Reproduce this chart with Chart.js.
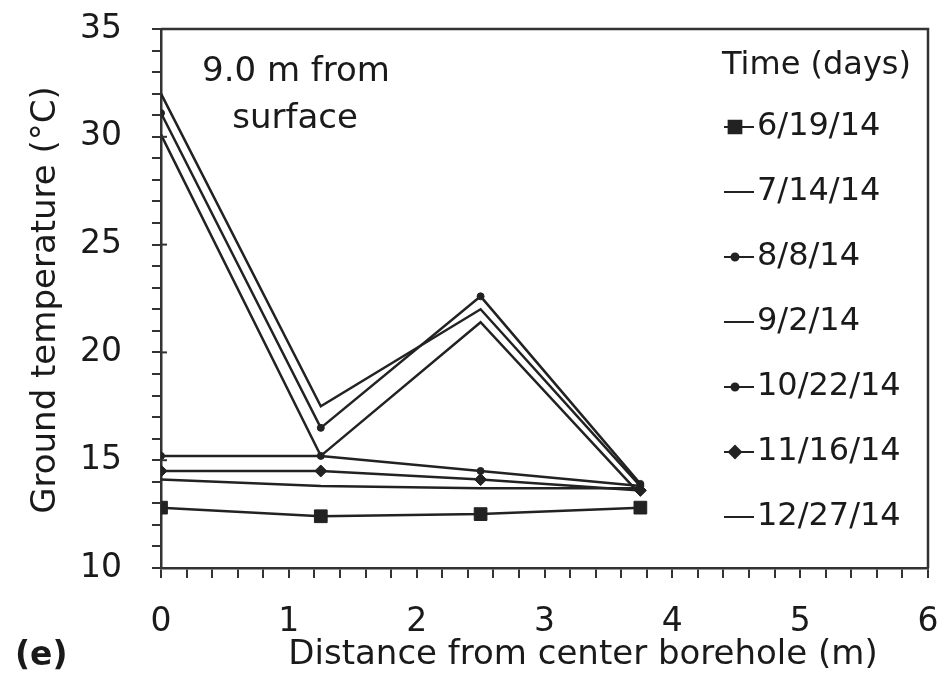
<!DOCTYPE html>
<html>
<head>
<meta charset="utf-8">
<script src="https://cdn.jsdelivr.net/npm/chart.js@4/dist/chart.umd.min.js"></script>
<style>
  html, body { margin: 0; padding: 0; background: #fff; }
  #wrap { width: 941px; height: 685px; }
</style>
</head>
<body>
<div id="wrap"><canvas id="chart" width="941" height="685"></canvas></div>
<script>
// distance from center borehole (m)
var distances = [0, 1.25, 2.5, 3.75];
var dates = ['6/19/14', '7/14/14', '8/8/14', '9/2/14', '10/22/14', '11/16/14', '12/27/14'];

// ground temperature (°C) at each distance
var t0619 = [12.8, 12.4, 12.5, 12.8];
var t0714 = [32.0, 17.5, 22.0, 13.8];
var t0808 = [31.1, 16.5, 22.6, 13.9];
var t0902 = [30.1, 15.2, 21.4, 13.4];
var t1022 = [15.2, 15.2, 14.5, 13.8];
var t1116 = [14.5, 14.5, 14.1, 13.6];
var t1227 = [14.1, 13.8, 13.7, 13.7];

var series = [t0619, t0714, t0808, t0902, t1022, t1116, t1227];
var markers = [
    { style: 'rect', r: 9 },
    { style: false, r: 0 },
    { style: 'circle', r: 3.5 },
    { style: false, r: 0 },
    { style: 'circle', r: 3.5 },
    { style: 'rectRot', r: 6 },
    { style: false, r: 0 }
];

var ink = '#222';
var font = 'DejaVu Sans';

var datasets = series.map(function (vals, i) {
    return {
        label: dates[i],
        data: vals.map(function (v, j) { return { x: distances[j], y: v }; }),
        borderColor: ink,
        backgroundColor: ink,
        borderWidth: 2.5,
        pointStyle: markers[i].style,
        pointRadius: markers[i].r,
        pointBorderWidth: 1,
        tension: 0
    };
});

var decor = {
    id: 'decor',
    afterDraw: function (chart) {
        var ctx = chart.ctx;
        var a = chart.chartArea;
        var ys = chart.scales.y;
        ctx.save();
        // top and right frame
        ctx.strokeStyle = '#333';
        ctx.lineWidth = 2.5;
        ctx.beginPath();
        ctx.moveTo(a.left, a.top);
        ctx.lineTo(a.right, a.top);
        ctx.lineTo(a.right, a.bottom);
        ctx.stroke();

        // major y ticks cross the axis
        ctx.lineWidth = 2;
        ys.ticks.forEach(function (t) {
            if (t.value % 5 !== 0) return;
            var py = ys.getPixelForValue(t.value);
            ctx.beginPath();
            ctx.moveTo(a.left, py);
            ctx.lineTo(a.left + 6, py);
            ctx.stroke();
        });

        ctx.fillStyle = '#1a1a1a';
        ctx.font = '34px "' + font + '"';
        ctx.textBaseline = 'middle';
        ctx.textAlign = 'center';
        ctx.fillText('9.0 m from', 296, 72);
        ctx.fillText('surface', 295, 119);

        // axis titles
        ctx.fillText('Distance from center borehole (m)', 583, 655);
        ctx.save();
        ctx.translate(46, 300);
        ctx.rotate(-Math.PI / 2);
        ctx.fillText('Ground temperature (°C)', 0, 0);
        ctx.restore();

        ctx.font = 'bold 33px "' + font + '"';
        ctx.textAlign = 'left';
        ctx.fillText('(e)', 15, 656);

        // legend inside the plot frame
        ctx.font = '32px "' + font + '"';
        ctx.fillText('Time (days)', 722, 66);
        chart.data.datasets.forEach(function (ds, i) {
            var y = 127 + i * 65;
            ctx.strokeStyle = ink;
            ctx.lineWidth = 2;
            ctx.beginPath();
            ctx.moveTo(724, y);
            ctx.lineTo(754, y);
            ctx.stroke();
            if (ds.pointStyle) {
                Chart.helpers.drawPoint(ctx, {
                    pointStyle: ds.pointStyle,
                    radius: ds.pointRadius,
                    borderWidth: 1,
                    rotation: 0
                }, 735, y);
                ctx.fillStyle = ink;
                ctx.fill();
            }
            ctx.fillStyle = '#1a1a1a';
            ctx.fillText(ds.label, 757, y);
        });
        ctx.restore();
    }
};

new Chart(document.getElementById('chart'), {
    type: 'line',
    data: { datasets: datasets },
    options: {
        responsive: false,
        animation: false,
        layout: { padding: { top: 29, right: 13, left: 0, bottom: 0 } },
        plugins: { legend: { display: false }, tooltip: { enabled: false } },
        scales: {
            x: {
                type: 'linear',
                min: 0,
                max: 6,
                afterFit: function (s) {
                    s.height = 117;
                    s.paddingLeft = 0;
                    s.paddingRight = 0;
                },
                border: { color: '#333', width: 2.5 },
                grid: { drawOnChartArea: false, tickLength: 10, color: '#333', lineWidth: 2 },
                ticks: {
                    stepSize: 0.2,
                    autoSkip: false,
                    maxRotation: 0,
                    padding: 25,
                    color: '#1a1a1a',
                    font: { family: font, size: 33 },
                    callback: function (v) {
                        var r = Math.round(v);
                        return Math.abs(v - r) < 1e-6 ? String(r) : '';
                    }
                }
            },
            y: {
                min: 10,
                max: 35,
                afterFit: function (s) {
                    s.width = 161;
                    s.paddingTop = 0;
                    s.paddingBottom = 0;
                },
                border: { color: '#333', width: 2.5 },
                grid: { drawOnChartArea: false, tickLength: 9, color: '#333', lineWidth: 2 },
                ticks: {
                    stepSize: 1,
                    autoSkip: false,
                    padding: 30,
                    color: '#1a1a1a',
                    font: { family: font, size: 33 },
                    callback: function (v) { return v % 5 === 0 ? String(v) : ''; }
                }
            }
        }
    },
    plugins: [decor]
});
</script>
</body>
</html>
